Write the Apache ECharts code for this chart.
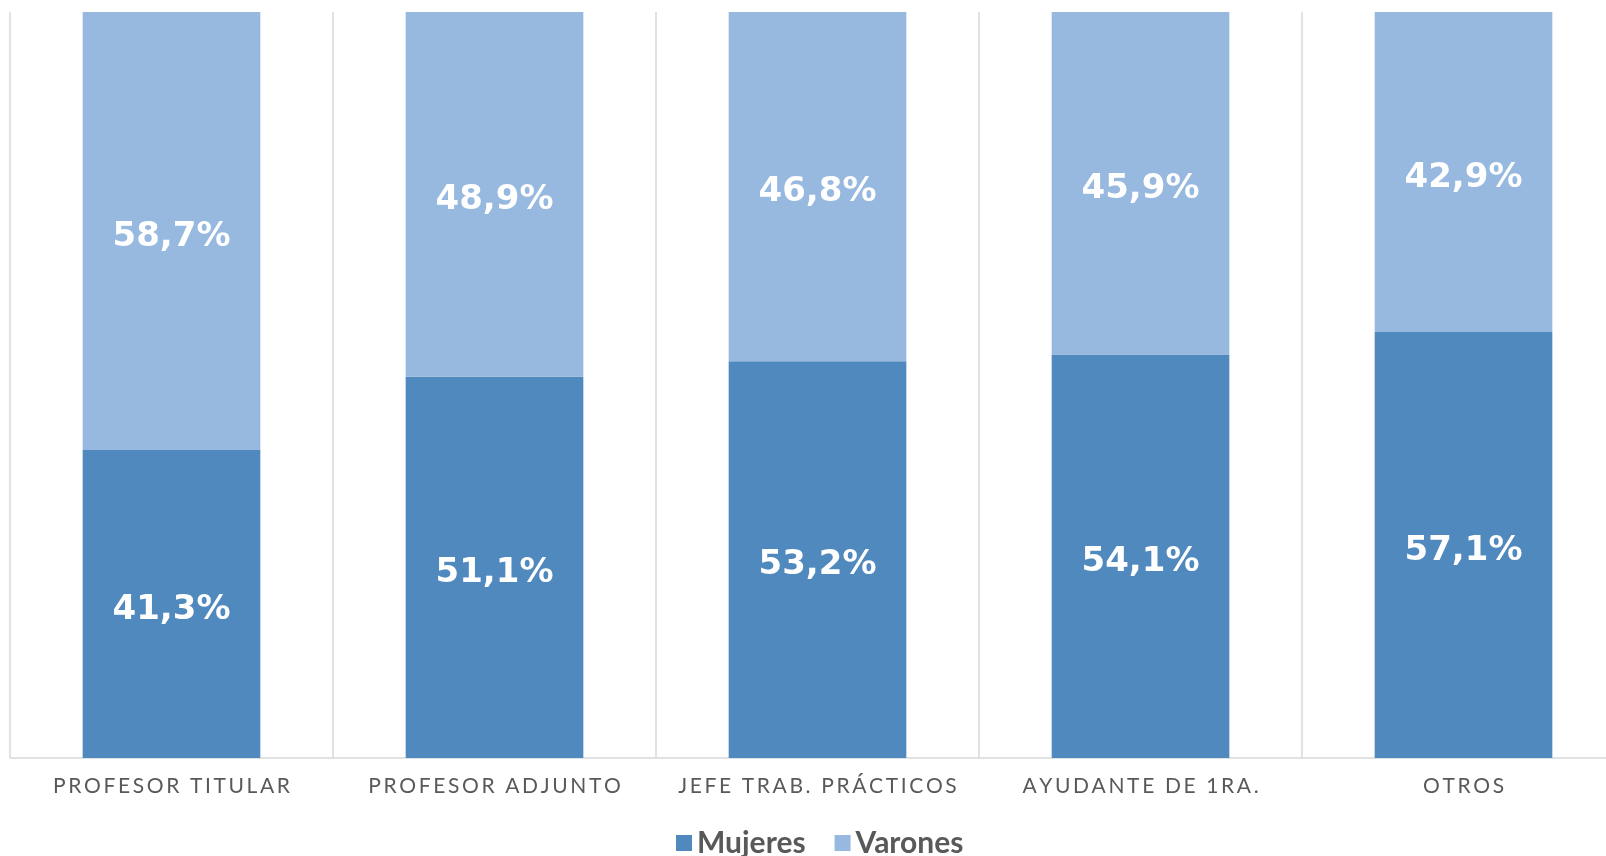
<!DOCTYPE html>
<html>
<head>
<meta charset="utf-8">
<script src="https://cdn.jsdelivr.net/npm/echarts@6/dist/echarts.min.js"></script>
<style>
  html, body { margin: 0; padding: 0; background: #fff; }
  #chart { width: 1606px; height: 856px; }
</style>
</head>
<body>
<div id="chart"></div>
<script>
// categorías y porcentajes
var categorias = ['PROFESOR TITULAR', 'PROFESOR ADJUNTO', 'JEFE TRAB. PRÁCTICOS', 'AYUDANTE DE 1RA.', 'OTROS'];
var mujeres = [41.3, 51.1, 53.2, 54.1, 57.1];
var varones = [58.7, 48.9, 46.8, 45.9, 42.9];

var chart = echarts.init(document.getElementById('chart'));

// etiqueta con coma decimal
function etiqueta(p) {
  return p.value.toFixed(1).replace('.', ',') + '%';
}

// espaciado entre letras (thin space)
function espaciado(v) {
  return v.split('').join('\u2009');
}

var labelStyle = {
  show: true,
  position: 'inside',
  offset: [0, 6],
  formatter: etiqueta,
  color: '#fff',
  fontFamily: 'DejaVu Sans',
  fontWeight: 'bold',
  fontSize: 34
};

var option = {
  animation: false,
  grid: { left: 10, top: 12, bottom: 98, right: -19, containLabel: false, outerBoundsMode: 'none' },
  legend: {
    data: ['Mujeres', 'Varones'],
    left: 671,
    top: 823,
    icon: 'rect',
    itemWidth: 16,
    itemHeight: 16,
    itemGap: 29,
    textStyle: { fontFamily: 'Lato', fontWeight: 'bold', fontSize: 30, color: '#595959' }
  },
  xAxis: {
    type: 'category',
    data: categorias,
    axisLine: { lineStyle: { color: '#D9D9D9', width: 1.5 } },
    axisTick: { show: false },
    splitLine: { show: true, interval: 0, lineStyle: { color: '#D9D9D9', width: 1.5 } },
    axisLabel: { interval: 0, fontFamily: 'Lato', fontSize: 21, color: '#595959', margin: 18, formatter: espaciado }
  },
  yAxis: {
    type: 'value',
    min: 0,
    max: 100,
    show: false,
    splitLine: { show: false }
  },
  series: [
    {
      name: 'Mujeres',
      type: 'bar',
      stack: 'total',
      barWidth: '55%',
      data: mujeres,
      itemStyle: { color: '#4F89BD' },
      label: labelStyle
    },
    {
      name: 'Varones',
      type: 'bar',
      stack: 'total',
      barWidth: '55%',
      data: varones,
      itemStyle: { color: '#97B8DF' },
      label: labelStyle
    }
  ]
};

chart.setOption(option);
</script>
</body>
</html>
